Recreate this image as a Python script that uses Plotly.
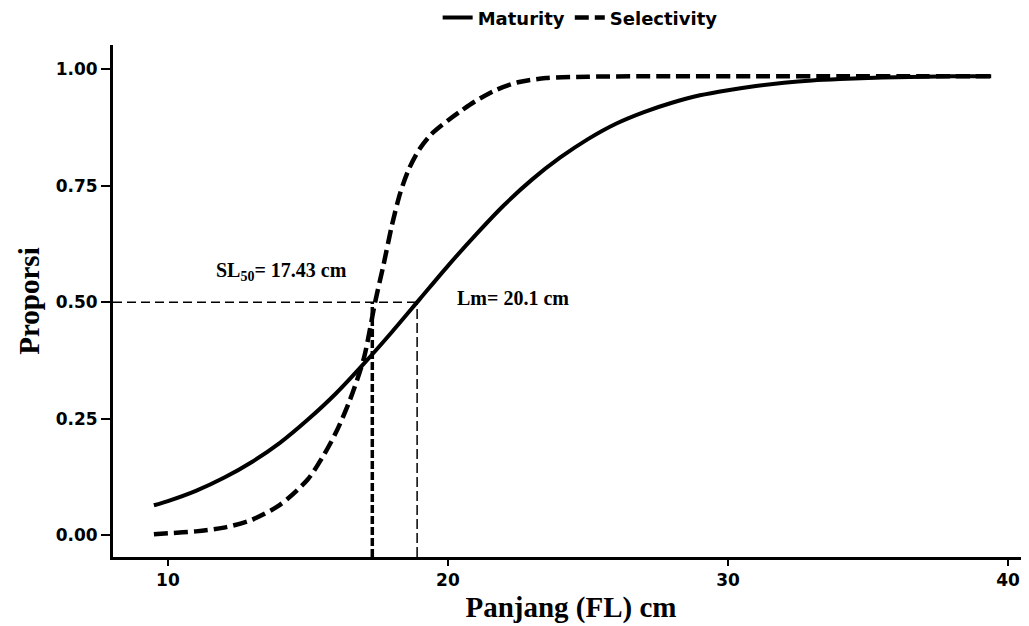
import plotly.graph_objects as go

# Data
maturity_x = [9.5, 10, 11, 12, 13, 14, 15, 16, 17, 18, 19, 20, 21, 22, 23, 24, 25, 26, 27, 28,
              29, 30, 31, 32, 33, 34, 35, 36, 37, 38, 39.4]
maturity_y = [0.064, 0.073, 0.095, 0.123, 0.157, 0.198, 0.248, 0.304, 0.368, 0.436, 0.507, 0.578,
              0.645, 0.708, 0.763, 0.810, 0.850, 0.883, 0.908, 0.928, 0.944, 0.955, 0.964, 0.971,
              0.976, 0.979, 0.981, 0.983, 0.984, 0.985, 0.985]

selectivity_x = [9.5, 10, 11, 12, 13, 14, 15, 15.5, 16, 16.5, 17, 17.4, 17.7, 18, 18.3, 18.6, 19.0,
                 19.4, 20, 20.5, 21, 21.7, 22.5, 23.5, 25, 28, 31, 34, 37, 39.4]
selectivity_y = [0.002, 0.004, 0.008, 0.016, 0.033, 0.065, 0.12, 0.165, 0.22, 0.29, 0.38, 0.50,
                 0.58, 0.665, 0.735, 0.785, 0.83, 0.86, 0.89, 0.912, 0.932, 0.955, 0.972, 0.981,
                 0.984, 0.985, 0.985, 0.985, 0.985, 0.985]

sl50_x = 17.3
lm_x = 18.9
half = 0.5
sl50_label = "SL<sub>50</sub>= 17.43 cm"
lm_label = "Lm= 20.1 cm"

x_range = [8.04, 40.75]
y_range = [-0.047, 1.052]
x_ticks = [10, 20, 30, 40]
y_ticks = [0.0, 0.25, 0.5, 0.75, 1.0]
y_ticktext = ["0.00", "0.25", "0.50", "0.75", "1.00"]

fig = go.Figure()
fig.add_trace(go.Scatter(x=maturity_x, y=maturity_y, mode="lines", name="Maturity",
                         line=dict(color="black", width=4, shape="spline", smoothing=0.8)))
fig.add_trace(go.Scatter(x=selectivity_x, y=selectivity_y, mode="lines", name="Selectivity",
                         line=dict(color="black", width=4.5, dash="14px,6px", shape="spline",
                                   smoothing=0.8)))

# reference lines
fig.add_shape(type="line", xref="x", yref="y", x0=x_range[0], x1=lm_x, y0=half, y1=half,
              line=dict(color="black", width=1.5, dash="9px,5px"))
fig.add_shape(type="line", xref="x", yref="y", x0=sl50_x, x1=sl50_x, y0=y_range[0], y1=half,
              line=dict(color="black", width=3.5, dash="8px,3px"))
fig.add_shape(type="line", xref="x", yref="y", x0=lm_x, x1=lm_x, y0=y_range[0], y1=half,
              line=dict(color="black", width=1.5, dash="10px,4px"))

fig.add_annotation(x=16.45, y=0.565, xref="x", yref="y", text=sl50_label, showarrow=False,
                   xanchor="right", yanchor="middle",
                   font=dict(family="Liberation Serif", size=20, color="black", weight="bold"))
fig.add_annotation(x=20.25, y=0.508, xref="x", yref="y", text=lm_label, showarrow=False,
                   xanchor="left", yanchor="middle",
                   font=dict(family="Liberation Serif", size=20, color="black", weight="bold"))

tickfont = dict(family="DejaVu Sans", size=17, color="black", weight="bold")
titlefont = dict(family="Liberation Serif", size=29, color="black", weight="bold")

# the page body adds an 8px offset, so the figure is 8px smaller and margins compensate
fig.update_layout(
    width=1021, height=618,
    margin=dict(l=105, r=0, t=37, b=69),
    paper_bgcolor="white", plot_bgcolor="white",
    showlegend=True,
    legend=dict(orientation="h", x=0.51, xanchor="center", xref="paper",
                y=0.984, yanchor="middle", yref="container",
                font=dict(family="DejaVu Sans", size=18, color="black", weight="bold"),
                itemwidth=30, tracegroupgap=0, bgcolor="rgba(0,0,0,0)"),
    xaxis=dict(range=x_range, tickvals=x_ticks, showgrid=False, zeroline=False,
               showline=True, linecolor="black", linewidth=3, ticks="outside", ticklen=6,
               tickwidth=2, tickcolor="black", tickfont=tickfont,
               title=dict(text="Panjang (FL) cm", font=titlefont, standoff=8), automargin=False),
    yaxis=dict(range=y_range, tickvals=y_ticks, ticktext=y_ticktext, showgrid=False, zeroline=False,
               showline=True, linecolor="black", linewidth=3, ticks="outside", ticklen=9,
               tickwidth=2, tickcolor="black", tickfont=tickfont,
               title=dict(text="Proporsi", font=titlefont, standoff=8), automargin=False),
)

fig.write_html("out.html")
